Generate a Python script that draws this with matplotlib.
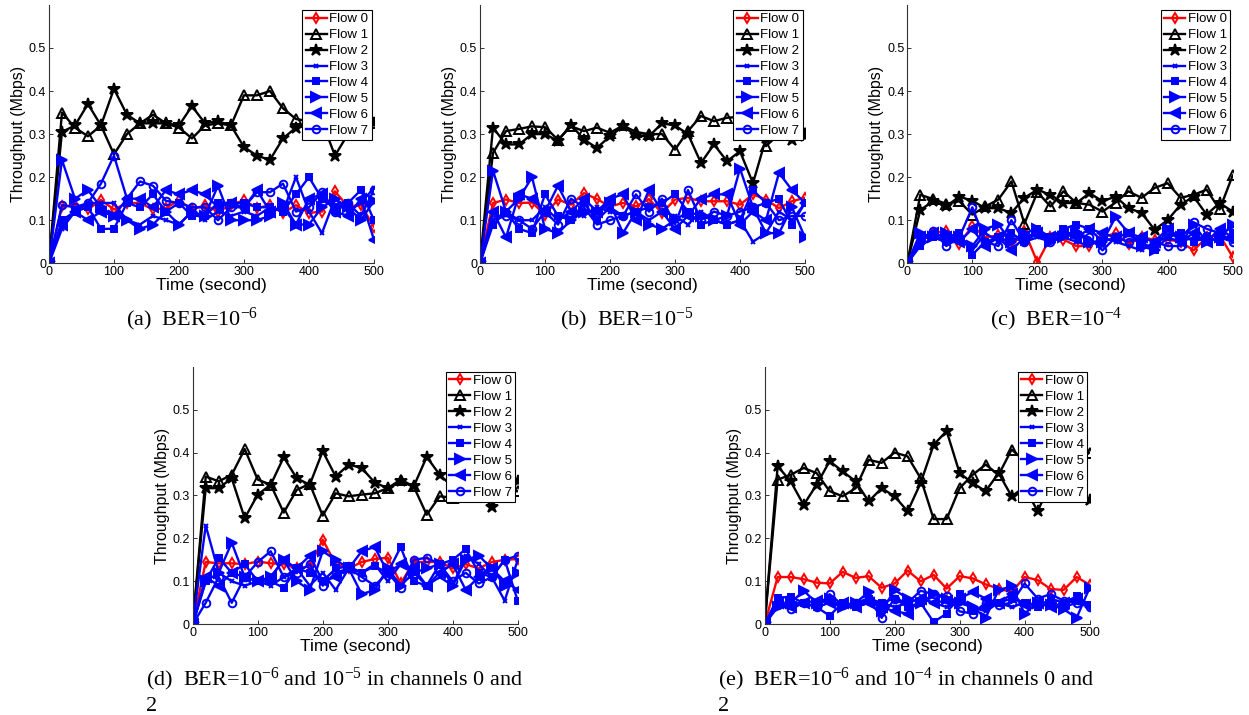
import matplotlib
matplotlib.use('Agg')
import matplotlib.pyplot as plt
from matplotlib import rcParams

rcParams['font.family'] = ['Liberation Sans', 'DejaVu Sans']
rcParams['mathtext.fontset'] = 'custom'
rcParams['mathtext.rm'] = 'Liberation Serif'
rcParams['mathtext.it'] = 'Liberation Serif:italic'
rcParams['mathtext.bf'] = 'Liberation Serif:bold'

#-time axis (seconds)
time = [0, 20, 40, 60, 80, 100, 120, 140, 160, 180, 200, 220, 240,
        260, 280, 300, 320, 340, 360, 380, 400, 420, 440, 460, 480, 500]
flow_names = ['Flow 0', 'Flow 1', 'Flow 2', 'Flow 3', 'Flow 4', 'Flow 5', 'Flow 6', 'Flow 7']
yticks = [0, 0.1, 0.2, 0.3, 0.4, 0.5]
ytick_labels = ['0', '0.1', '0.2', '0.3', '0.4', '0.5']
xticks = [0, 100, 200, 300, 400, 500]

#-(a) BER=1e-6
a0 = [0, 0.132, 0.135, 0.125, 0.147, 0.125, 0.14, 0.14, 0.125, 0.128, 0.147, 0.125, 0.135, 0.12, 0.135, 0.147, 0.128, 0.135, 0.117, 0.135, 0.117, 0.12, 0.167, 0.132, 0.135, 0.085]
a1 = [0, 0.35, 0.315, 0.295, 0.32, 0.253, 0.30, 0.325, 0.345, 0.325, 0.315, 0.29, 0.32, 0.325, 0.32, 0.39, 0.39, 0.40, 0.36, 0.335, 0.33, 0.32, 0.33, 0.32, 0.33, 0.325]
a2 = [0, 0.305, 0.32, 0.37, 0.32, 0.405, 0.345, 0.325, 0.325, 0.325, 0.32, 0.365, 0.325, 0.33, 0.32, 0.27, 0.25, 0.24, 0.29, 0.315, 0.32, 0.33, 0.25, 0.30, 0.32, 0.325]
a3 = [0, 0.08, 0.12, 0.14, 0.14, 0.14, 0.10, 0.09, 0.11, 0.10, 0.09, 0.12, 0.10, 0.12, 0.11, 0.12, 0.11, 0.13, 0.12, 0.20, 0.12, 0.07, 0.15, 0.12, 0.14, 0.175]
a4 = [0, 0.10, 0.12, 0.13, 0.08, 0.08, 0.14, 0.13, 0.16, 0.12, 0.14, 0.11, 0.11, 0.14, 0.14, 0.14, 0.13, 0.13, 0.12, 0.16, 0.20, 0.15, 0.13, 0.14, 0.17, 0.10]
a5 = [0, 0.24, 0.15, 0.17, 0.13, 0.11, 0.10, 0.08, 0.09, 0.12, 0.09, 0.12, 0.11, 0.18, 0.10, 0.10, 0.10, 0.11, 0.14, 0.09, 0.09, 0.13, 0.15, 0.13, 0.10, 0.145]
a6 = [0, 0.09, 0.12, 0.10, 0.12, 0.11, 0.15, 0.15, 0.13, 0.17, 0.16, 0.17, 0.16, 0.13, 0.14, 0.13, 0.17, 0.12, 0.13, 0.09, 0.15, 0.16, 0.12, 0.11, 0.15, 0.055]
a7 = [0, 0.135, 0.13, 0.14, 0.185, 0.25, 0.15, 0.19, 0.18, 0.145, 0.14, 0.13, 0.13, 0.10, 0.13, 0.13, 0.165, 0.165, 0.185, 0.12, 0.13, 0.165, 0.12, 0.14, 0.11, 0.17]

#-(b) BER=1e-5
b0 = [0, 0.14, 0.148, 0.14, 0.141, 0.113, 0.148, 0.136, 0.163, 0.149, 0.132, 0.14, 0.132, 0.149, 0.117, 0.148, 0.152, 0.144, 0.144, 0.144, 0.136, 0.16, 0.148, 0.128, 0.144, 0.152]
b1 = [0, 0.256, 0.307, 0.312, 0.318, 0.316, 0.287, 0.318, 0.307, 0.315, 0.303, 0.32, 0.305, 0.30, 0.30, 0.264, 0.307, 0.342, 0.33, 0.338, 0.34, 0.33, 0.272, 0.30, 0.30, 0.303]
b2 = [0, 0.315, 0.276, 0.276, 0.30, 0.30, 0.284, 0.322, 0.287, 0.268, 0.295, 0.318, 0.297, 0.295, 0.325, 0.32, 0.30, 0.233, 0.276, 0.237, 0.26, 0.186, 0.29, 0.30, 0.287, 0.295]
b3 = [0, 0.10, 0.12, 0.10, 0.10, 0.13, 0.10, 0.12, 0.11, 0.13, 0.12, 0.11, 0.12, 0.10, 0.12, 0.11, 0.09, 0.12, 0.10, 0.09, 0.10, 0.05, 0.07, 0.12, 0.10, 0.14]
b4 = [0, 0.09, 0.12, 0.08, 0.07, 0.16, 0.11, 0.10, 0.14, 0.10, 0.13, 0.11, 0.12, 0.13, 0.14, 0.16, 0.12, 0.09, 0.10, 0.09, 0.10, 0.17, 0.14, 0.15, 0.09, 0.14]
b5 = [0, 0.215, 0.12, 0.15, 0.20, 0.08, 0.07, 0.10, 0.12, 0.12, 0.14, 0.07, 0.12, 0.09, 0.08, 0.10, 0.12, 0.11, 0.10, 0.11, 0.22, 0.13, 0.07, 0.07, 0.13, 0.06]
b6 = [0, 0.12, 0.06, 0.16, 0.15, 0.12, 0.18, 0.12, 0.15, 0.12, 0.15, 0.16, 0.10, 0.17, 0.12, 0.08, 0.11, 0.15, 0.16, 0.16, 0.09, 0.12, 0.10, 0.21, 0.17, 0.14]
b7 = [0, 0.10, 0.11, 0.10, 0.08, 0.12, 0.09, 0.15, 0.13, 0.09, 0.10, 0.11, 0.16, 0.12, 0.15, 0.09, 0.17, 0.10, 0.12, 0.11, 0.12, 0.13, 0.14, 0.10, 0.11, 0.11]

#-(c) BER=1e-4
c0 = [0, 0.05, 0.07, 0.075, 0.045, 0.087, 0.06, 0.065, 0.04, 0.075, 0.002, 0.06, 0.055, 0.04, 0.04, 0.06, 0.07, 0.045, 0.06, 0.055, 0.055, 0.05, 0.03, 0.06, 0.065, 0.015]
c1 = [0, 0.159, 0.149, 0.138, 0.144, 0.113, 0.132, 0.148, 0.19, 0.092, 0.165, 0.132, 0.167, 0.14, 0.136, 0.12, 0.141, 0.167, 0.152, 0.175, 0.186, 0.152, 0.159, 0.171, 0.125, 0.204]
c2 = [0, 0.124, 0.144, 0.132, 0.155, 0.145, 0.128, 0.128, 0.117, 0.152, 0.171, 0.159, 0.14, 0.14, 0.163, 0.144, 0.155, 0.128, 0.117, 0.078, 0.10, 0.136, 0.155, 0.113, 0.14, 0.12]
c3 = [0, 0.06, 0.06, 0.05, 0.06, 0.03, 0.07, 0.05, 0.06, 0.05, 0.06, 0.05, 0.06, 0.05, 0.04, 0.06, 0.05, 0.04, 0.03, 0.05, 0.06, 0.05, 0.06, 0.05, 0.06, 0.05]
c4 = [0, 0.04, 0.06, 0.05, 0.07, 0.02, 0.05, 0.06, 0.07, 0.05, 0.08, 0.06, 0.08, 0.09, 0.08, 0.05, 0.06, 0.07, 0.05, 0.03, 0.06, 0.07, 0.05, 0.06, 0.05, 0.07]
c5 = [0, 0.07, 0.06, 0.07, 0.06, 0.04, 0.08, 0.09, 0.05, 0.07, 0.08, 0.05, 0.06, 0.07, 0.05, 0.05, 0.107, 0.07, 0.04, 0.03, 0.08, 0.06, 0.09, 0.05, 0.06, 0.09]
c6 = [0, 0.06, 0.07, 0.06, 0.05, 0.08, 0.04, 0.06, 0.03, 0.06, 0.07, 0.06, 0.07, 0.06, 0.08, 0.07, 0.06, 0.07, 0.06, 0.05, 0.08, 0.05, 0.07, 0.05, 0.08, 0.06]
c7 = [0, 0.05, 0.075, 0.04, 0.06, 0.13, 0.05, 0.04, 0.10, 0.05, 0.07, 0.05, 0.07, 0.07, 0.06, 0.03, 0.06, 0.05, 0.06, 0.05, 0.04, 0.04, 0.095, 0.08, 0.07, 0.05]

#-(d) BER=1e-6 and 1e-5 in channels 0 and 2
d0 = [0, 0.145, 0.142, 0.142, 0.14, 0.146, 0.142, 0.14, 0.13, 0.135, 0.197, 0.14, 0.13, 0.145, 0.152, 0.155, 0.095, 0.145, 0.145, 0.145, 0.13, 0.14, 0.13, 0.145, 0.15, 0.152]
d1 = [0, 0.344, 0.333, 0.348, 0.408, 0.337, 0.325, 0.26, 0.313, 0.327, 0.253, 0.305, 0.298, 0.302, 0.305, 0.317, 0.337, 0.321, 0.255, 0.298, 0.295, 0.30, 0.31, 0.30, 0.31, 0.31]
d2 = [0, 0.317, 0.317, 0.34, 0.247, 0.302, 0.325, 0.389, 0.34, 0.325, 0.403, 0.344, 0.372, 0.364, 0.33, 0.317, 0.333, 0.321, 0.39, 0.348, 0.32, 0.33, 0.31, 0.274, 0.32, 0.333]
d3 = [0, 0.23, 0.12, 0.10, 0.09, 0.10, 0.09, 0.11, 0.13, 0.09, 0.12, 0.08, 0.13, 0.12, 0.14, 0.10, 0.14, 0.12, 0.09, 0.11, 0.09, 0.16, 0.14, 0.11, 0.055, 0.15]
d4 = [0, 0.10, 0.155, 0.12, 0.14, 0.10, 0.10, 0.085, 0.13, 0.12, 0.10, 0.13, 0.135, 0.12, 0.135, 0.12, 0.18, 0.10, 0.09, 0.14, 0.15, 0.175, 0.12, 0.11, 0.15, 0.055]
d5 = [0, 0.10, 0.12, 0.19, 0.11, 0.10, 0.11, 0.15, 0.10, 0.08, 0.17, 0.15, 0.13, 0.07, 0.08, 0.13, 0.09, 0.12, 0.13, 0.14, 0.09, 0.15, 0.16, 0.13, 0.09, 0.12]
d6 = [0, 0.11, 0.09, 0.12, 0.11, 0.10, 0.11, 0.15, 0.13, 0.16, 0.10, 0.11, 0.13, 0.17, 0.18, 0.12, 0.14, 0.13, 0.09, 0.12, 0.14, 0.08, 0.11, 0.13, 0.10, 0.08]
d7 = [0, 0.05, 0.11, 0.05, 0.11, 0.145, 0.17, 0.11, 0.12, 0.14, 0.09, 0.12, 0.13, 0.11, 0.09, 0.12, 0.085, 0.15, 0.155, 0.14, 0.10, 0.12, 0.095, 0.11, 0.15, 0.16]

#-(e) BER=1e-6 and 1e-4 in channels 0 and 2
e0 = [0, 0.11, 0.11, 0.105, 0.097, 0.095, 0.122, 0.108, 0.112, 0.085, 0.095, 0.125, 0.10, 0.115, 0.083, 0.112, 0.107, 0.093, 0.083, 0.075, 0.11, 0.103, 0.082, 0.08, 0.11, 0.092]
e1 = [0, 0.337, 0.348, 0.364, 0.352, 0.31, 0.298, 0.317, 0.383, 0.376, 0.40, 0.391, 0.34, 0.245, 0.245, 0.317, 0.348, 0.372, 0.348, 0.407, 0.38, 0.35, 0.36, 0.37, 0.38, 0.40]
e2 = [0, 0.368, 0.333, 0.278, 0.325, 0.38, 0.356, 0.333, 0.286, 0.317, 0.298, 0.263, 0.329, 0.418, 0.45, 0.352, 0.329, 0.31, 0.352, 0.298, 0.32, 0.263, 0.33, 0.31, 0.30, 0.29]
e3 = [0, 0.05, 0.05, 0.05, 0.04, 0.05, 0.04, 0.04, 0.05, 0.05, 0.04, 0.05, 0.06, 0.05, 0.04, 0.05, 0.04, 0.03, 0.05, 0.04, 0.05, 0.04, 0.05, 0.04, 0.05, 0.045]
e4 = [0, 0.062, 0.064, 0.05, 0.04, 0.02, 0.05, 0.04, 0.06, 0.05, 0.06, 0.04, 0.05, 0.005, 0.025, 0.07, 0.03, 0.04, 0.05, 0.06, 0.05, 0.04, 0.06, 0.05, 0.065, 0.045]
e5 = [0, 0.04, 0.05, 0.078, 0.05, 0.06, 0.04, 0.05, 0.075, 0.03, 0.08, 0.06, 0.05, 0.07, 0.06, 0.05, 0.04, 0.015, 0.08, 0.088, 0.025, 0.05, 0.045, 0.035, 0.015, 0.085]
e6 = [0, 0.05, 0.04, 0.05, 0.055, 0.05, 0.05, 0.04, 0.05, 0.04, 0.03, 0.025, 0.06, 0.05, 0.055, 0.06, 0.075, 0.06, 0.05, 0.07, 0.045, 0.05, 0.04, 0.05, 0.06, 0.04]
e7 = [0, 0.045, 0.035, 0.05, 0.04, 0.07, 0.045, 0.05, 0.06, 0.015, 0.06, 0.05, 0.078, 0.07, 0.065, 0.03, 0.025, 0.05, 0.045, 0.05, 0.095, 0.06, 0.07, 0.055, 0.05, 0.04]

panels = [
    ([a0, a1, a2, a3, a4, a5, a6, a7], [0.0392, 0.6318, 0.2602, 0.3613]),
    ([b0, b1, b2, b3, b4, b5, b6, b7], [0.3843, 0.6318, 0.2602, 0.3613]),
    ([c0, c1, c2, c3, c4, c5, c6, c7], [0.7264, 0.6318, 0.2605, 0.3613]),
    ([d0, d1, d2, d3, d4, d5, d6, d7], [0.1543, 0.1269, 0.2602, 0.3603]),
    ([e0, e1, e2, e3, e4, e5, e6, e7], [0.6122, 0.1269, 0.2602, 0.3603]),
]

#-line style per flow: colour, marker, size, filled
styles = [('#ff0000', 'd', 5.5, False),
          ('k', '^', 6.5, False),
          ('k', '*', 9, True),
          ('#0000ff', 'x', 3.5, True),
          ('#0000ff', 's', 4.5, True),
          ('#0000ff', '>', 6.5, True),
          ('#0000ff', '<', 6.5, True),
          ('#0000ff', 'o', 5.5, False)]

fig = plt.figure(figsize=(12.49, 7.15), dpi=100)

for series, rect in panels:
    ax = fig.add_axes(rect)
    for y, name, (col, mk, ms, filled) in zip(series, flow_names, styles):
        ax.plot(time, y, color=col, lw=1.7, marker=mk, ms=ms,
                mfc=col if filled else 'none', mec=col, mew=1.4, label=name)
    ax.set_xlim(0, 500)
    ax.set_ylim(0, 0.6)
    ax.set_xticks(xticks)
    ax.set_yticks(yticks)
    ax.set_yticklabels(ytick_labels)
    for s in ['top', 'right']:
        ax.spines[s].set_visible(False)
    for s in ['left', 'bottom']:
        ax.spines[s].set_color('#333333')
        ax.spines[s].set_linewidth(0.8)
    ax.tick_params(direction='in', length=3, width=0.7, color='#333333',
                   labelsize=9, pad=2)
    ax.set_xlabel('Time (second)', fontsize=12.5, labelpad=0)
    ax.set_ylabel('Throughput (Mbps)', fontsize=11.5, labelpad=2)
    leg = ax.legend(loc='upper right', bbox_to_anchor=(0.993, 0.981), borderaxespad=0,
                    fontsize=9.5, frameon=True, fancybox=False, framealpha=1,
                    labelspacing=0.28, handlelength=1.6, handletextpad=0.2,
                    borderpad=0.25, numpoints=1)
    leg.get_frame().set_edgecolor('k')
    leg.get_frame().set_linewidth(0.8)

cap = dict(family='Liberation Serif', fontsize=16, va='baseline')
fig.text(0.1537, 1 - 325 / 715, '(a)  BER=10$^{-6}$', ha='center', **cap)
fig.text(0.5016, 1 - 325 / 715, '(b)  BER=10$^{-5}$', ha='center', **cap)
fig.text(0.8455, 1 - 325 / 715, '(c)  BER=10$^{-4}$', ha='center', **cap)
fig.text(0.1169, 1 - 685 / 715, '(d)  BER=10$^{-6}$ and 10$^{-5}$ in channels 0 and', ha='left', **cap)
fig.text(0.1169, 1 - 711 / 715, '2', ha='left', **cap)
fig.text(0.5749, 1 - 685 / 715, '(e)  BER=10$^{-6}$ and 10$^{-4}$ in channels 0 and', ha='left', **cap)
fig.text(0.5749, 1 - 711 / 715, '2', ha='left', **cap)

fig.savefig('out.png', dpi=100)
